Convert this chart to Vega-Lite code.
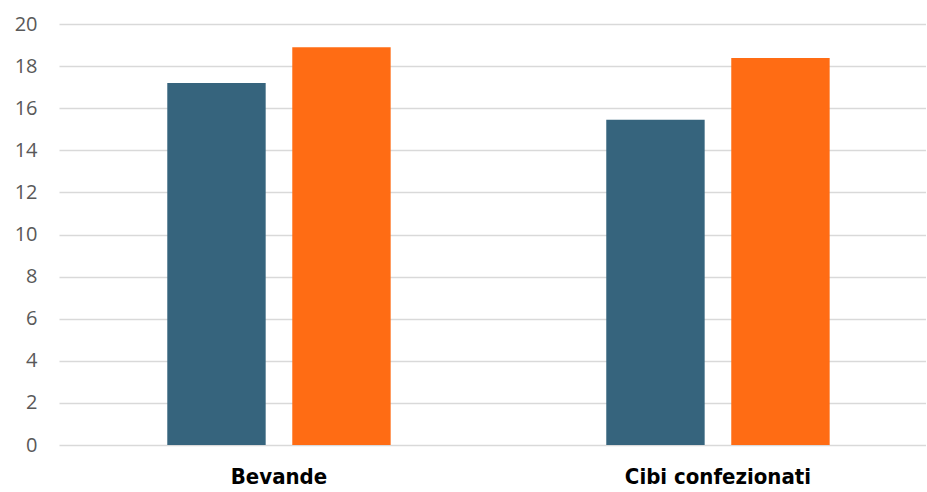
{
  "$schema": "https://vega.github.io/schema/vega-lite/v6.json",
  "width": 867,
  "height": 421,
  "padding": {"top": 14, "left": 14, "right": 0, "bottom": 0},
  "background": "white",
  "data": {
    "values": [
      {"categoria": "Bevande", "serie": "Serie 1", "valore": 17.2},
      {"categoria": "Bevande", "serie": "Serie 2", "valore": 18.9},
      {"categoria": "Cibi confezionati", "serie": "Serie 1", "valore": 15.45},
      {"categoria": "Cibi confezionati", "serie": "Serie 2", "valore": 18.38}
    ]
  },
  "config": {
    "view": {"stroke": null}
  },
  "mark": {"type": "bar"},
  "encoding": {
    "x": {
      "field": "categoria",
      "type": "nominal",
      "sort": null,
      "scale": {"paddingInner": 0.45, "paddingOuter": 0.2125, "align": 0.532},
      "axis": {
        "title": null,
        "labelAngle": 0,
        "domain": false,
        "ticks": false,
        "labelLimit": 0,
        "labelPadding": 21,
        "labelFont": "DejaVu Sans Condensed",
        "labelFontWeight": "bold",
        "labelFontSize": 22,
        "labelColor": "#000000"
      }
    },
    "xOffset": {
      "field": "serie",
      "type": "nominal",
      "scale": {"paddingInner": 0.2128, "paddingOuter": 0.0722}
    },
    "y": {
      "field": "valore",
      "type": "quantitative",
      "scale": {"domain": [0, 20], "nice": false},
      "axis": {
        "title": null,
        "values": [0, 2, 4, 6, 8, 10, 12, 14, 16, 18, 20],
        "domain": false,
        "ticks": false,
        "labelPadding": 22,
        "labelFont": "Open Sans",
        "labelFontSize": 20,
        "labelColor": "#595959",
        "gridColor": "#d9d9d9",
        "gridWidth": 1.5
      }
    },
    "color": {
      "field": "serie",
      "type": "nominal",
      "scale": {"domain": ["Serie 1", "Serie 2"], "range": ["#36647d", "#ff6c14"]},
      "legend": null
    }
  }
}
